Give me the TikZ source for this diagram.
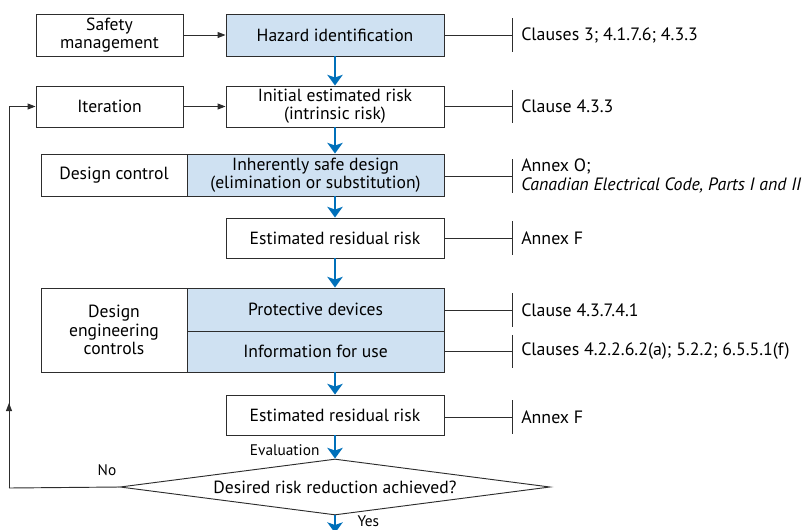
\documentclass[tikz,border=0pt]{standalone}
\usepackage{fontspec}
\setmainfont{PT Sans}
\usetikzlibrary{arrows.meta,shapes.geometric}

\definecolor{linegray}{RGB}{45,45,45}
\definecolor{boxblue}{RGB}{207,225,242}
\definecolor{flowblue}{RGB}{0,112,186}

\tikzset{
  box/.style={draw=linegray, line width=0.7pt, align=center, inner sep=1pt, font=\fontsize{13.2}{13.8}\selectfont},
  bluebox/.style={box, fill=boxblue},
  flow/.style={flowblue, line width=1.8pt, -{Stealth[width=11.5pt,length=8pt,inset=2pt]}},
  link/.style={linegray, line width=0.7pt, -{Triangle[width=4.5pt,length=6pt]}},
  refline/.style={linegray, line width=0.7pt, -{Bar[width=25pt]}},
  reftext/.style={anchor=west, inner xsep=6pt, align=left, font=\fontsize{13.4}{13.8}\selectfont},
  tag/.style={font=\fontsize{11.5}{13}\selectfont, inner sep=1pt}
}

\begin{document}
\begin{tikzpicture}[x=0.75pt,y=-0.75pt]
  \useasboundingbox (0,0) rectangle (807,529);
  \clip (0,0) rectangle (807,529);

  % left column
  \node[box, minimum width=110.25pt, minimum height=31.5pt] (safety) at (109.5,35) {Safety\\management};
  \node[box, minimum width=110.25pt, minimum height=30.75pt] (iter) at (109.5,106.5) {Iteration};
  \node[box, minimum width=109.5pt, minimum height=31.5pt] (dctrl) at (114,175) {Design control};
  \node[box, minimum width=109.5pt, minimum height=63pt] (dengctrl) at (114,330) {Design\\engineering\\controls};

  % main column
  \node[bluebox, minimum width=163.5pt, minimum height=31.5pt] (hazard) at (335,35) {Hazard identification};
  \node[box, minimum width=163.5pt, minimum height=30.75pt] (initial) at (335,106.5) {Initial estimated risk\\(intrinsic risk)};
  \node[bluebox, minimum width=192.75pt, minimum height=31.5pt] (inherent) at (315.5,175) {Inherently safe design\\(elimination or substitution)};
  \node[box, minimum width=163.5pt, minimum height=30pt] (resid1) at (335,238) {Estimated residual risk};
  \node[bluebox, minimum width=192.75pt, minimum height=32.25pt] (protect) at (315.5,309.5) {Protective devices};
  \node[bluebox, minimum width=192.75pt, minimum height=30.75pt] (info) at (315.5,351.5) {Information for use};
  \node[box, minimum width=163.5pt, minimum height=30pt] (resid2) at (335,415) {Estimated residual risk};
  \node[box, diamond, aspect=7.7, inner sep=0pt, minimum width=322.5pt, minimum height=42pt] (check) at (335,487) {Desired risk reduction achieved?};

  % references
  \node[reftext] (ref1) at (513,35) {Clauses 3; 4.1.7.6; 4.3.3};
  \node[reftext] (ref2) at (513,106.5) {Clause 4.3.3};
  \node[reftext] (ref3) at (513,176) {Annex O;\\\textit{Canadian Electrical Code, Parts I and II}};
  \node[reftext] (ref4) at (513,238) {Annex F};
  \node[reftext] (ref5) at (513,310) {Clause 4.3.7.4.1};
  \node[reftext] (ref6) at (513,351.5) {Clauses 4.2.2.6.2(a); 5.2.2; 6.5.5.1(f)};
  \node[reftext] (ref7) at (513,417) {Annex F};

  \draw[refline] (hazard.east) -- (ref1.west);
  \draw[refline] (initial.east) -- (ref2.west);
  \draw[refline] (inherent.east |- ref3.west) -- (ref3.west);
  \draw[refline] (resid1.east) -- (ref4.west);
  \draw[refline] (protect.east |- ref5.west) -- (ref5.west);
  \draw[refline] (info.east) -- (ref6.west);
  \draw[refline] (resid2.east |- ref7.west) -- (ref7.west);

  % main flow
  \draw[link] (safety) -- (hazard);
  \draw[link] (iter) -- (initial);
  \draw[flow] (hazard) -- (initial);
  \draw[flow] (initial) -- (initial |- inherent.north);
  \draw[flow] (initial |- inherent.south) -- (resid1);
  \draw[flow] (resid1) -- (resid1 |- protect.north);
  \draw[flow] (resid1 |- info.south) -- (resid2);
  \draw[flow] (resid2) -- (check);
  \node[tag, anchor=east] (evaltag) at (321,450) {Evaluation};

  % loop back
  \coordinate (bend) at (9,488);
  \draw[linegray, line width=0.7pt] (check.west) -- (bend);
  \draw[link] (bend) -- (bend |- iter.west) -- (iter.west);
  \draw[link] (bend) -- (9,403);
  \node[tag] (notag) at (107,470) {No};

  % exit
  \coordinate (yesend) at (335,533);
  \draw[flow] (check.south) -- (yesend);
  \node[tag, anchor=west] (yestag) at (356,521) {Yes};
\end{tikzpicture}
\end{document}
